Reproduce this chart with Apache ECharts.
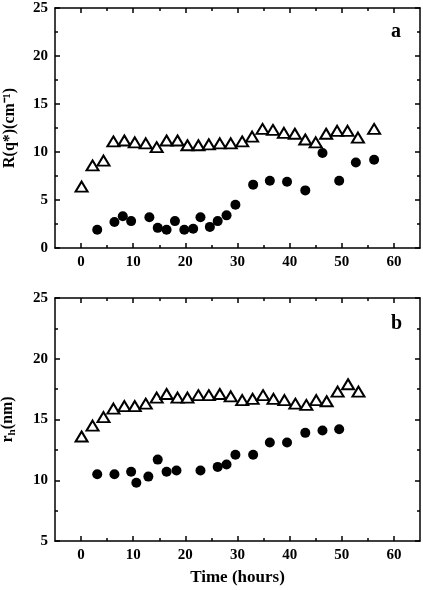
<!DOCTYPE html>
<html>
<head>
<meta charset="utf-8">
<script src="https://cdn.jsdelivr.net/npm/echarts@6/dist/echarts.min.js"></script>
<style>html,body{margin:0;padding:0;background:#fff;}#c{width:423px;height:590px;}</style>
</head>
<body>
<div id="c"></div>
<script>
// Panel a: R(q*) (cm^-1) vs time (hours)
const timeTriA = [0.1, 2.2, 4.3, 6.2, 8.3, 10.3, 12.4, 14.5, 16.4, 18.5, 20.4, 22.5, 24.5, 26.6, 28.7, 30.9, 32.8, 34.8, 36.8, 38.9, 41.0, 43.0, 45.0, 47.0, 49.1, 51.1, 53.1, 56.2];
const rTriA    = [6.4, 8.6, 9.1, 11.1, 11.2, 11.0, 10.9, 10.5, 11.2, 11.2, 10.7, 10.7, 10.8, 10.9, 10.9, 11.1, 11.6, 12.4, 12.3, 12.0, 11.9, 11.3, 11.0, 11.9, 12.2, 12.2, 11.5, 12.4];
const timeDotA = [3.1, 6.4, 8.0, 9.6, 13.1, 14.7, 16.4, 18.0, 19.8, 21.5, 22.9, 24.7, 26.2, 27.9, 29.6, 33.0, 36.2, 39.5, 43.0, 46.3, 49.5, 52.7, 56.2];
const rDotA    = [1.9, 2.7, 3.3, 2.8, 3.2, 2.1, 1.9, 2.8, 1.9, 2.0, 3.2, 2.2, 2.8, 3.4, 4.5, 6.6, 7.0, 6.9, 6.0, 9.9, 7.0, 8.9, 9.2];
// Panel b: r_h (nm) vs time (hours)
const timeTriB = [0.1, 2.2, 4.3, 6.2, 8.3, 10.3, 12.4, 14.5, 16.4, 18.5, 20.4, 22.5, 24.5, 26.6, 28.7, 30.9, 32.9, 34.9, 36.9, 39.0, 41.1, 43.2, 45.1, 47.1, 49.2, 51.2, 53.2];
const rhTriB   = [13.6, 14.5, 15.2, 15.9, 16.1, 16.1, 16.3, 16.8, 17.1, 16.8, 16.8, 17.0, 17.0, 17.1, 16.9, 16.6, 16.7, 17.0, 16.7, 16.6, 16.3, 16.2, 16.6, 16.5, 17.3, 17.9, 17.3];
const timeDotB = [3.1, 6.4, 9.6, 10.6, 12.9, 14.7, 16.4, 18.3, 22.9, 26.2, 27.9, 29.6, 33.0, 36.2, 39.5, 43.0, 46.3, 49.5];
const rhDotB   = [10.5, 10.5, 10.7, 9.8, 10.3, 11.7, 10.7, 10.8, 10.8, 11.1, 11.3, 12.1, 12.1, 13.1, 13.1, 13.9, 14.1, 14.2];
// Axes
const xMin = -5, xMax = 65;
const xMajor = [0, 10, 20, 30, 40, 50, 60];
const xMinor = [5, 15, 25, 35, 45, 55];
const yRangeA = [0, 25];
const yRangeB = [5, 25];
const xName = 'Time (hours)';
const yNameA = 'R(q*)(cm⁻¹)';
const panelLabels = ['a', 'b'];

const FONT = 'Liberation Serif';
const black = '#000';
const lineStyle = { color: black, width: 1.5 };

function zip(a, b) { return a.map((v, i) => [v, b[i]]); }

const grids = [
  { left: 55, top: 8, width: 365, height: 240, containLabel: false, outerBoundsMode: 'none' },
  { left: 55, top: 298, width: 365, height: 243, containLabel: false, outerBoundsMode: 'none' }
];

const xAxes = [];
const yAxes = [];
[0, 1].forEach(g => {
  const base = { gridIndex: g, type: 'value', min: xMin, max: xMax, splitLine: { show: false } };
  xAxes.push(Object.assign({}, base, {
    position: 'bottom',
    axisLine: { show: true, onZero: false, lineStyle },
    axisTick: { show: true, inside: true, length: 5, customValues: xMajor, lineStyle },
    axisLabel: { show: true, customValues: xMajor, color: black, fontFamily: FONT, fontWeight: 'bold', fontSize: 15, margin: 7 },
    name: g === 1 ? xName : '',
    nameLocation: 'middle', nameGap: 28,
    nameTextStyle: { color: black, fontFamily: FONT, fontWeight: 'bold', fontSize: 17 }
  }));
  xAxes.push(Object.assign({}, base, {
    position: 'bottom',
    axisLine: { show: false, onZero: false },
    axisTick: { show: true, inside: true, length: 3, customValues: xMinor, lineStyle },
    axisLabel: { show: false }
  }));
  xAxes.push(Object.assign({}, base, {
    position: 'top',
    axisLine: { show: true, onZero: false, lineStyle },
    axisTick: { show: true, inside: true, length: 5, customValues: xMajor, lineStyle },
    axisLabel: { show: false }
  }));
  xAxes.push(Object.assign({}, base, {
    position: 'top',
    axisLine: { show: false, onZero: false },
    axisTick: { show: true, inside: true, length: 3, customValues: xMinor, lineStyle },
    axisLabel: { show: false }
  }));
  const yr = g === 0 ? yRangeA : yRangeB;
  const ybase = { gridIndex: g, type: 'value', min: yr[0], max: yr[1], interval: 5, splitLine: { show: false },
    axisLine: { show: true, onZero: false, lineStyle },
    axisTick: { show: true, inside: true, length: 5, lineStyle },
    minorTick: { show: true, splitNumber: 2, length: 3, lineStyle } };
  yAxes.push(Object.assign({}, ybase, {
    position: 'left',
    axisLabel: { show: true, color: black, fontFamily: FONT, fontWeight: 'bold', fontSize: 15, margin: 7 },
    name: g === 0 ? yNameA : '{n|r}{s|h}{n|(nm)}',
    nameLocation: 'middle', nameGap: 37, nameRotate: 90,
    nameTextStyle: { color: black, fontFamily: FONT, fontWeight: 'bold', fontSize: 16,
      rich: {
        n: { color: black, fontFamily: FONT, fontWeight: 'bold', fontSize: 16 },
        s: { color: black, fontFamily: FONT, fontWeight: 'bold', fontSize: 11, padding: [9, 0, 0, 0] }
      } }
  }));
  yAxes.push(Object.assign({}, ybase, {
    position: 'right',
    axisLabel: { show: false }
  }));
});

const triStyle = { color: '#fff', borderColor: black, borderWidth: 2, opacity: 1 };
const dotStyle = { color: black, opacity: 1 };

const option = {
  backgroundColor: '#fff',
  animation: false,
  grid: grids,
  xAxis: xAxes,
  yAxis: yAxes,
  graphic: [
    { type: 'text', left: 391, top: 22, style: { text: panelLabels[0], fontFamily: FONT, fontWeight: 'bold', fontSize: 20, fill: black } },
    { type: 'text', left: 391, top: 314, style: { text: panelLabels[1], fontFamily: FONT, fontWeight: 'bold', fontSize: 20, fill: black } }
  ],
  series: [
    { type: 'scatter', name: 'a-triangle', xAxisIndex: 0, yAxisIndex: 0, data: zip(timeTriA, rTriA), symbol: 'triangle', symbolSize: [12, 10], itemStyle: triStyle },
    { type: 'scatter', name: 'a-dot', xAxisIndex: 0, yAxisIndex: 0, data: zip(timeDotA, rDotA), symbol: 'circle', symbolSize: 10, itemStyle: dotStyle },
    { type: 'scatter', name: 'b-triangle', xAxisIndex: 4, yAxisIndex: 2, data: zip(timeTriB, rhTriB), symbol: 'triangle', symbolSize: [12, 10], itemStyle: triStyle },
    { type: 'scatter', name: 'b-dot', xAxisIndex: 4, yAxisIndex: 2, data: zip(timeDotB, rhDotB), symbol: 'circle', symbolSize: 10, itemStyle: dotStyle }
  ]
};

const chart = echarts.init(document.getElementById('c'), null, { renderer: 'canvas' });
chart.setOption(option);
</script>
</body>
</html>
